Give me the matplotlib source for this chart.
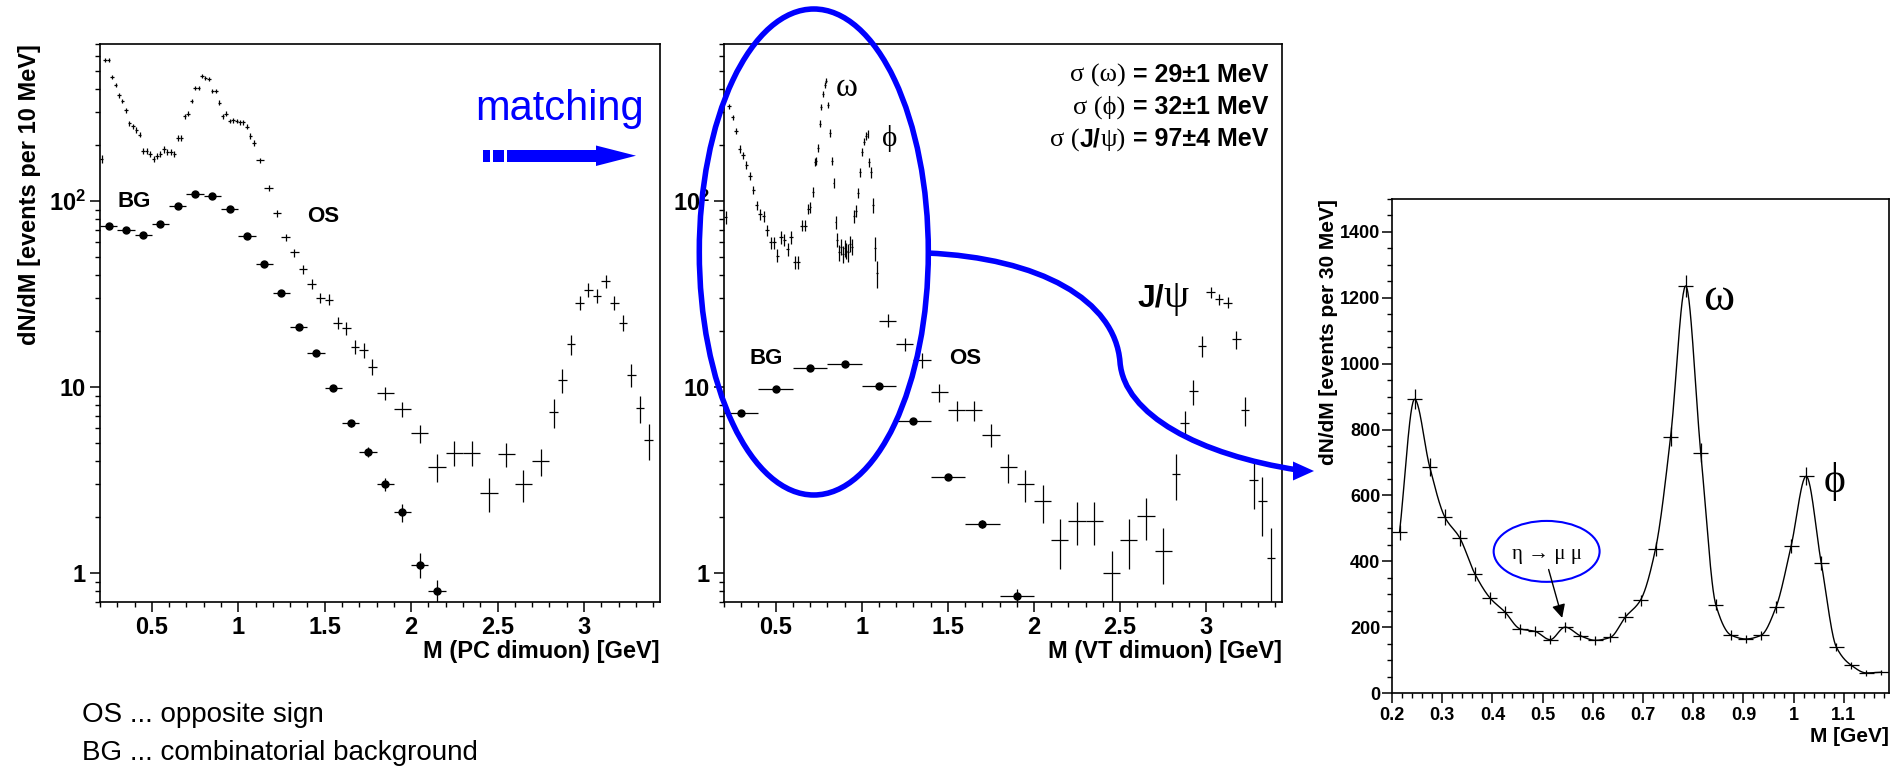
import numpy as np
import matplotlib
matplotlib.use('Agg')
import matplotlib.pyplot as plt
from matplotlib.patches import Ellipse, PathPatch, Polygon, Rectangle
from matplotlib.path import Path
from matplotlib.ticker import (FixedLocator, FixedFormatter, MultipleLocator,
                               LogLocator, NullFormatter, FuncFormatter)
from matplotlib.transforms import IdentityTransform

W, H, DPI = 1901, 766, 100

plt.rcParams['font.family'] = ['Liberation Sans', 'DejaVu Sans']
plt.rcParams['font.weight'] = 'bold'
plt.rcParams['axes.labelweight'] = 'bold'
plt.rcParams['mathtext.fontset'] = 'custom'
plt.rcParams['mathtext.rm'] = 'Liberation Sans'
plt.rcParams['mathtext.bf'] = 'Liberation Sans:bold'

SERIF = ['Liberation Serif', 'DejaVu Serif']
BLUE = '#0000ff'

# ---- PC dimuon spectrum: opposite sign pairs (variable binning) ----
pc_os_mass = np.concatenate([np.linspace(0.21, 1.09, 45), np.linspace(1.125, 1.775, 14),
                             np.linspace(1.85, 2.75, 10), np.linspace(2.825, 3.375, 12)])
pc_os_halfwidth = np.concatenate([np.full(45, 0.01), np.full(14, 0.025),
                                  np.full(10, 0.05), np.full(12, 0.025)])
pc_os = [168, 572, 572, 468, 421, 371, 346, 308, 262, 253, 241, 228, 186, 186, 180,
         169, 175, 179, 190, 184, 184, 180, 219, 219, 286, 296, 346, 404, 404, 470,
         458, 455, 392, 392, 339, 286, 296, 270, 272, 270, 265, 265, 251, 224, 206,
         166, 118, 86, 64, 53, 43, 35.8, 30.2, 29.6, 22.2, 20.7, 16.5, 15.8, 12.9,
         9.3, 7.6, 5.64, 3.73, 4.45, 4.45, 2.70, 4.37, 3.0, 4.0,
         7.36, 10.9, 17.0, 28.4, 33.5, 31.1, 37.2, 28.4, 22.2, 11.7, 7.7, 5.2]
pc_os_relerr = [0.05, 0.025, 0.025, 0.025, 0.025, 0.03, 0.03, 0.03, 0.03, 0.03, 0.035,
                0.035, 0.04, 0.04, 0.04, 0.04, 0.04, 0.04, 0.04, 0.04, 0.04, 0.04, 0.035,
                0.035, 0.03, 0.03, 0.03, 0.025, 0.025, 0.025, 0.025, 0.025, 0.025, 0.025,
                0.03, 0.03, 0.03, 0.03, 0.03, 0.03, 0.03, 0.03, 0.03, 0.035, 0.035,
                0.03, 0.035, 0.04, 0.045, 0.05, 0.055, 0.06, 0.065, 0.065, 0.075, 0.08,
                0.09, 0.09, 0.10,
                0.08, 0.09, 0.11, 0.17, 0.15, 0.15, 0.21, 0.15, 0.20, 0.17,
                0.18, 0.15, 0.12, 0.09, 0.085, 0.09, 0.08, 0.09, 0.10, 0.14, 0.17, 0.22]

# ---- PC dimuon spectrum: combinatorial background (100 MeV bins) ----
pc_bg_mass = np.linspace(0.25, 2.15, 20)
pc_bg = [74, 70, 66, 75.5, 94, 109, 107, 91, 65, 46, 32, 21, 15.3, 9.95, 6.4, 4.5,
         3.0, 2.12, 1.11, 0.80]
pc_bg_relerr = [0.01] * 13 + [0.03, 0.04, 0.06, 0.08, 0.11, 0.15, 0.15]

# ---- VT dimuon spectrum: opposite sign pairs ----
vt_low_mass = np.concatenate([np.linspace(0.21, 0.69, 25), [
    0.702, 0.716, 0.727, 0.737, 0.747, 0.756, 0.765, 0.776, 0.786, 0.794, 0.804,
    0.816, 0.825, 0.836, 0.848, 0.858, 0.869, 0.879, 0.889, 0.900, 0.911, 0.922,
    0.933, 0.944, 0.956, 0.967, 0.979, 0.991, 1.003, 1.014, 1.024, 1.034, 1.044,
    1.055, 1.066, 1.077, 1.088]])
vt_low_halfwidth = np.concatenate([np.full(25, 0.01), np.full(37, 0.005)])
vt_low_os = [82, 323, 282, 238, 191, 177, 156, 137, 115, 95, 85, 83, 70, 60, 60, 51,
             64, 62, 55, 64, 47, 47, 74, 74, 91,
             93, 112, 162, 165, 193, 261, 321, 378, 423, 445, 330, 233, 165, 126, 77,
             62, 53, 57, 52, 56, 54, 53, 59, 57, 83, 89, 111, 143, 184, 209, 224, 230,
             162, 143, 95, 56, 41]
vt_low_relerr = [0.08, 0.035, 0.035, 0.04, 0.045, 0.045, 0.05, 0.05, 0.055, 0.06, 0.065,
                 0.065, 0.07, 0.075, 0.075, 0.08, 0.075, 0.075, 0.08, 0.075, 0.085, 0.085,
                 0.07, 0.07, 0.065,
                 0.07, 0.06, 0.05, 0.05, 0.05, 0.045, 0.04, 0.04, 0.035, 0.035, 0.04,
                 0.045, 0.05, 0.06, 0.08, 0.09, 0.10, 0.10, 0.11, 0.10, 0.10, 0.11, 0.10,
                 0.10, 0.08, 0.075, 0.065, 0.055, 0.05, 0.045, 0.045, 0.045, 0.06, 0.065,
                 0.09, 0.15, 0.17]

vt_high_mass = np.concatenate([np.linspace(1.15, 2.75, 17), np.linspace(2.825, 3.375, 12)])
vt_high_halfwidth = np.concatenate([np.full(17, 0.05), np.full(12, 0.025)])
vt_high_os = [22.8, 17, 14, 9.4, 7.5, 7.5, 5.56, 3.72, 3.0, 2.43, 1.51, 1.91, 1.91, 1.0,
              1.51, 2.02, 1.31,
              3.43, 6.4, 9.5, 16.6, 32.3, 29.7, 28.5, 18.1, 7.5, 3.18, 2.43, 1.2]
vt_high_relerr = [0.08, 0.08, 0.09, 0.11, 0.125, 0.125, 0.14, 0.18, 0.20, 0.23, 0.30,
                  0.26, 0.26, 0.32, 0.30, 0.25, 0.33,
                  0.28, 0.17, 0.155, 0.13, 0.07, 0.07, 0.07, 0.11, 0.18, 0.30, 0.35, 0.45]

# ---- VT dimuon spectrum: combinatorial background (200 MeV bins) ----
vt_bg_mass = np.linspace(0.3, 1.9, 9)
vt_bg = [7.28, 9.8, 12.7, 13.4, 10.1, 6.56, 3.31, 1.84, 0.757]
vt_bg_relerr = [0.02] * 6 + [0.03, 0.05, 0.08]

# ---- background subtracted low mass spectrum (30 MeV bins) ----
sub_mass = np.linspace(0.215, 1.175, 33)
sub_counts = [488, 892, 687, 535, 471, 362, 289, 246, 195, 187, 162, 200, 174, 160, 169,
              231, 282, 438, 778, 1236, 730, 268, 176, 164, 175, 261, 446, 658, 395, 140,
              84, 61, 63]
sub_err = [22, 30, 28, 25, 24, 21, 19, 17, 15, 15, 14, 15, 14, 13, 14, 16, 17, 22, 29,
           34, 28, 17, 14, 13, 14, 17, 22, 27, 21, 12, 10, 8, 8]

# mass resolutions, split into serif (greek) and bold sans pieces
sigma_lines = [
    [('σ (ω)', 'serif'), (' = 29±1 MeV', 'sans')],
    [('σ (ϕ)', 'serif'), (' = 32±1 MeV', 'sans')],
    [('σ (', 'serif'), ('J/', 'sans'), ('ψ)', 'serif'), (' = 97±4 MeV', 'sans')],
]


def pchip_curve(x, y, n=900):
    """Monotone cubic through the points, used for the smooth line in the right panel."""
    x = np.asarray(x, float)
    y = np.asarray(y, float)
    h = np.diff(x)
    delta = np.diff(y) / h
    d = np.zeros_like(y)
    for k in range(1, len(x) - 1):
        if delta[k - 1] * delta[k] > 0:
            w1 = 2 * h[k] + h[k - 1]
            w2 = h[k] + 2 * h[k - 1]
            d[k] = (w1 + w2) / (w1 / delta[k - 1] + w2 / delta[k])
    d[0], d[-1] = delta[0], delta[-1]
    xs = np.linspace(x[0], x[-1], n)
    i = np.clip(np.searchsorted(x, xs) - 1, 0, len(h) - 1)
    t = (xs - x[i]) / h[i]
    ys = ((2 * t**3 - 3 * t**2 + 1) * y[i] + (t**3 - 2 * t**2 + t) * h[i] * d[i]
          + (-2 * t**3 + 3 * t**2) * y[i + 1] + (t**3 - t**2) * h[i] * d[i + 1])
    return xs, ys


fig = plt.figure(figsize=(W / DPI, H / DPI), dpi=DPI)


def px(x, y):
    """Pixel position (from top-left) to figure fraction."""
    return x / W, 1 - y / H


def add_axes_px(left, top, right, bottom):
    return fig.add_axes([left / W, 1 - bottom / H, (right - left) / W, (bottom - top) / H])


def style_axes(ax, labelsize):
    for sp in ax.spines.values():
        sp.set_linewidth(1.2)
    ax.tick_params(which='major', direction='out', length=7, width=1.1,
                   labelsize=labelsize, pad=3)
    ax.tick_params(which='minor', direction='out', length=3.6, width=1.0)
    for lab in ax.get_xticklabels() + ax.get_yticklabels():
        lab.set_fontweight('bold')


def style_log_panel(ax):
    ax.set_yscale('log')
    ax.set_xlim(0.2, 3.44)
    ax.set_ylim(0.70, 700)
    ax.yaxis.set_major_locator(FixedLocator([1, 10, 100]))
    ax.yaxis.set_major_formatter(FixedFormatter(['1', '10', r'$\mathbf{10^{2}}$']))
    ax.yaxis.set_minor_locator(LogLocator(base=10, subs=np.arange(2, 10), numticks=20))
    ax.yaxis.set_minor_formatter(NullFormatter())
    ax.xaxis.set_major_locator(MultipleLocator(0.5))
    ax.xaxis.set_minor_locator(MultipleLocator(0.1))
    ax.xaxis.set_major_formatter(FuncFormatter(lambda v, p: f'{v:g}'))
    style_axes(ax, 17)


def text_runs(x, y, runs, ha='left'):
    """Consecutive text pieces in different fonts, baseline at display point (x, y)."""
    renderer = fig.canvas.get_renderer()
    items = [fig.text(0, 0, s, transform=IdentityTransform(), ha='left', va='baseline',
                      zorder=6, **kw) for s, kw in runs]
    widths = [t.get_window_extent(renderer).width for t in items]
    x0 = x - sum(widths) if ha == 'right' else x
    for t, w in zip(items, widths):
        t.set_position((x0, y))
        x0 += w


serif_kw = dict(family=SERIF, weight='normal')

# ---------------- left: PC dimuon ----------------
ax1 = add_axes_px(100, 44, 660, 602)
style_log_panel(ax1)
ax1.errorbar(pc_os_mass, pc_os, xerr=pc_os_halfwidth,
             yerr=np.array(pc_os) * np.array(pc_os_relerr),
             fmt='none', ecolor='black', elinewidth=0.9, capsize=0)
ax1.errorbar(pc_bg_mass, pc_bg, xerr=0.05, yerr=np.array(pc_bg) * np.array(pc_bg_relerr),
             fmt='o', color='black', ms=5, elinewidth=0.9, capsize=0)
ax1.set_ylabel('dN/dM [events per 10 MeV]', fontsize=17, loc='top', labelpad=6)
ax1.set_xlabel('M (PC dimuon) [GeV]', fontsize=17, loc='right', labelpad=1)
ax1.text(0.40, 100, 'BG', fontsize=16, ha='center', va='center')
ax1.text(1.49, 83, 'OS', fontsize=16, ha='center', va='center')

# ---------------- middle: VT dimuon ----------------
ax2 = add_axes_px(724, 44, 1282, 602)
style_log_panel(ax2)
ax2.errorbar(vt_low_mass, vt_low_os, xerr=vt_low_halfwidth,
             yerr=np.array(vt_low_os) * np.array(vt_low_relerr),
             fmt='none', ecolor='black', elinewidth=0.9, capsize=0)
ax2.errorbar(vt_high_mass, vt_high_os, xerr=vt_high_halfwidth,
             yerr=np.array(vt_high_os) * np.array(vt_high_relerr),
             fmt='none', ecolor='black', elinewidth=0.9, capsize=0)
ax2.errorbar(vt_bg_mass, vt_bg, xerr=0.1, yerr=np.array(vt_bg) * np.array(vt_bg_relerr),
             fmt='o', color='black', ms=5, elinewidth=0.9, capsize=0)
ax2.set_xlabel('M (VT dimuon) [GeV]', fontsize=17, loc='right', labelpad=1)
ax2.text(0.911, 406, 'ω', fontsize=24, ha='center', va='center', **serif_kw)
ax2.text(1.16, 217, 'ϕ', fontsize=21, ha='center', va='center', **serif_kw)
ax2.text(0.444, 14.2, 'BG', fontsize=16, ha='center', va='center')
ax2.text(1.599, 14.2, 'OS', fontsize=16, ha='center', va='center')

# ---------------- right: background subtracted ----------------
ax3 = add_axes_px(1392, 199, 1889, 693)
ax3.set_xlim(0.2, 1.19)
ax3.set_ylim(0, 1500)
ax3.xaxis.set_major_locator(MultipleLocator(0.1))
ax3.xaxis.set_minor_locator(MultipleLocator(0.02))
ax3.xaxis.set_major_formatter(FuncFormatter(lambda v, p: f'{v:g}'))
ax3.yaxis.set_major_locator(MultipleLocator(200))
ax3.yaxis.set_minor_locator(MultipleLocator(50))
style_axes(ax3, 13)
ax3.tick_params(axis='y', which='major', pad=1.5)
curve_x, curve_y = pchip_curve(sub_mass, sub_counts)
ax3.plot(curve_x, curve_y, color='black', lw=1.0)
ax3.errorbar(sub_mass, sub_counts, xerr=0.015, yerr=sub_err, fmt='none',
             ecolor='black', elinewidth=0.9, capsize=0)
ax3.set_ylabel('dN/dM [events per 30 MeV]', fontsize=15, loc='top')
ax3.yaxis.set_label_coords(-0.108, 1.0)
ax3.set_xlabel('M [GeV]', fontsize=15, loc='right', labelpad=2)
ax3.text(0.85, 1198, 'ω', fontsize=34, ha='center', va='center', **serif_kw)
ax3.text(1.081, 641, 'ϕ', fontsize=30, ha='center', va='center', **serif_kw)
ax3.add_patch(Ellipse((0.508, 430), 0.211, 185, fill=False, ec=BLUE, lw=1.5))
ax3.text(0.508, 422, 'η → μ μ', fontsize=15, ha='center', va='center', **serif_kw)
ax3.annotate('', xy=(0.539, 228), xytext=(0.512, 375),
             arrowprops=dict(arrowstyle='-|>', color='black', lw=1.0,
                             mutation_scale=20, shrinkA=0, shrinkB=0))

# ---------------- text runs in the middle panel ----------------
run_style = {'serif': dict(fontsize=19, **serif_kw), 'sans': dict(fontsize=18)}
for k, line in enumerate(sigma_lines):
    xd, yd = ax2.transAxes.transform((0.975, 0.932 - 0.0575 * k))
    text_runs(xd, yd, [(s, run_style[st]) for s, st in line], ha='right')
xd, yd = ax2.transData.transform((2.60, 27))
text_runs(xd, yd, [('J/', dict(fontsize=23)), ('ψ', dict(fontsize=29, **serif_kw))])

# ---------------- blue "matching" arrow ----------------
fig.text(*px(560, 109), 'matching', color=BLUE, fontsize=30, weight='normal',
         ha='center', va='center')
for x0, x1 in [(483, 490), (493, 504), (507, 597)]:
    fig.add_artist(Rectangle(px(x0, 161.5), (x1 - x0) / W, 11.5 / H,
                             transform=fig.transFigure, color=BLUE, lw=0))
fig.add_artist(Polygon([px(596, 145.5), px(636, 155.7), px(596, 166)],
                       closed=True, transform=fig.transFigure, color=BLUE, lw=0))

# ---------------- ellipse around the low mass region and connector ----------------
cx, cy = px(813.8, 252)
fig.add_artist(Ellipse((cx, cy), 229 / W, 486 / H, transform=fig.transFigure,
                       fill=False, ec=BLUE, lw=4, zorder=10))
verts = [px(927, 253), px(1040, 258), px(1115, 300), px(1120, 362),
         px(1124, 415), px(1200, 455), px(1298, 470)]
codes = [Path.MOVETO] + [Path.CURVE4] * 6
fig.add_artist(PathPatch(Path(verts, codes), transform=fig.transFigure, fill=False,
                         ec=BLUE, lw=4, zorder=10))
fig.add_artist(Polygon([px(1293, 461.5), px(1314, 471), px(1293, 480.5)], closed=True,
                       transform=fig.transFigure, color=BLUE, lw=0, zorder=10))

# ---------------- legend text ----------------
fig.text(*px(82, 721.7), 'OS ... opposite sign', fontsize=20, weight='normal',
         va='baseline')
fig.text(*px(82, 760), 'BG ... combinatorial background', fontsize=20,
         weight='normal', va='baseline')

fig.savefig('out.png', dpi=DPI)
